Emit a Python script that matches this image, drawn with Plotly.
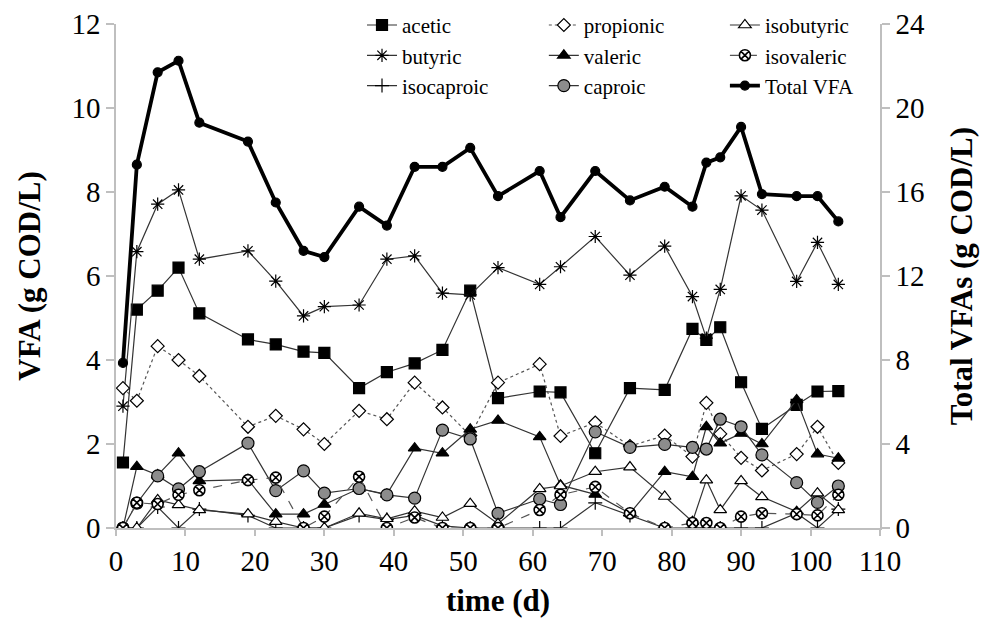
import plotly.graph_objects as go

days = [1, 3, 6, 9, 12, 19, 23, 27, 30, 35, 39, 43, 47, 51, 55, 61, 64, 69, 74, 79, 83, 85, 87, 90, 93, 98, 101, 104]

acetic = [1.56, 5.2, 5.65, 6.2, 5.11, 4.49, 4.37, 4.2, 4.17, 3.33, 3.71, 3.92, 4.24, 5.65, 3.09, 3.25, 3.23, 1.78, 3.33, 3.29, 4.74, 4.48, 4.78, 3.47, 2.36, 2.93, 3.25, 3.26]
propionic = [3.33, 3.03, 4.33, 4.0, 3.62, 2.41, 2.67, 2.35, 2.0, 2.79, 2.59, 3.46, 2.87, 2.2, 3.46, 3.9, 2.19, 2.51, 1.95, 2.2, 1.7, 2.98, 2.24, 1.67, 1.37, 1.76, 2.41, 1.55]
isobutyric = [0, 0, 0.67, 0.55, 0.43, 0.33, 0.15, 0, 0, 0.35, 0.22, 0.4, 0.25, 0.58, 0.1, 0.93, 1.0, 1.34, 1.45, 0.75, 0.15, 1.14, 0.43, 1.12, 0.74, 0.39, 0.83, 0.43]
butyric = [2.9, 6.58, 7.71, 8.05, 6.4, 6.6, 5.88, 5.05, 5.27, 5.31, 6.4, 6.48, 5.59, 5.55, 6.2, 5.8, 6.22, 6.94, 6.02, 6.71, 5.51, 4.52, 5.68, 7.91, 7.57, 5.87, 6.8, 5.8]
valeric = [0, 1.46, 1.26, 1.78, 1.12, 1.15, 0.33, 0.33, 0.56, 0.94, 0.8, 1.9, 1.78, 2.35, 2.56, 2.17, 1.02, 0.8, 0.35, 1.34, 1.22, 2.41, 2.02, 2.25, 2.0, 3.05, 1.76, 1.66]
isovaleric = [0, 0.6, 0.57, 0.79, 0.9, 1.14, 1.2, 0, 0.27, 1.22, 0, 0.25, 0, 0, 0, 0.43, 0.79, 0.98, 0.35, 0, 0.12, 0.12, 0, 0.27, 0.35, 0.33, 0.3, 0.79]
isocaproic = [0, 0, 0.5, 0, 0.45, 0.3, 0, 0, 0, 0.3, 0.2, 0.3, 0.05, 0, 0, 0, 0, 0.6, 0.3, 0, 0, 0, 0, 0, 0, 0.35, 0, 0.45]
caproic = [0, 0.59, 1.24, 0.93, 1.34, 2.02, 0.89, 1.36, 0.83, 0.94, 0.79, 0.71, 2.33, 2.12, 0.35, 0.69, 0.56, 2.29, 1.92, 1.99, 1.92, 1.88, 2.59, 2.41, 1.74, 1.08, 0.61, 1.0]
total_vfa = [7.86, 17.3, 21.7, 22.25, 19.3, 18.4, 15.5, 13.2, 12.9, 15.3, 14.4, 17.2, 17.2, 18.1, 15.8, 17.0, 14.8, 17.0, 15.6, 16.25, 15.3, 17.4, 17.65, 19.1, 15.9, 15.8, 15.8, 14.6]

FONT = "Liberation Serif"
LC = "#333333"

fig = go.Figure()

def add(name, y, symbol, fill, dash, legend, size=10, lw=1.2, lcol=LC, yaxis="y", mlw=1.2):
    fig.add_trace(go.Scatter(
        x=days, y=y, name=name, mode="lines+markers", yaxis=yaxis, legend=legend,
        line=dict(color=lcol, width=lw, dash=dash),
        marker=dict(symbol=symbol, size=size, color=fill, line=dict(color="black", width=mlw)),
    ))

# column 1
add("acetic", acetic, "square", "black", "solid", "legend", size=11)
add("butyric", butyric, "asterisk-open", "black", "solid", "legend", size=11)
add("isocaproic", isocaproic, "cross-thin-open", "black", "solid", "legend", size=10)
# column 2
add("propionic", propionic, "diamond", "white", "dot", "legend2", size=10, lcol="#555555")
add("valeric", valeric, "triangle-up", "black", "solid", "legend2", size=11)
add("caproic", caproic, "circle", "#8c8c8c", "solid", "legend2", size=12)
# column 3
add("isobutyric", isobutyric, "triangle-up", "white", "solid", "legend3", size=11)
add("isovaleric", isovaleric, "circle-x", "white", "dash", "legend3", size=11, lcol="#555555", mlw=1.6)
add("Total VFA", total_vfa, "circle", "black", "solid", "legend3", size=9, lw=3.8, lcol="black", yaxis="y2")

axis_common = dict(
    showline=True, linecolor="#bfbfbf", linewidth=1.5,
    ticks="outside", tickcolor="#bfbfbf", tickwidth=1.5,
    showgrid=False, zeroline=False,
    tickfont=dict(family=FONT, size=29, color="black"),
)

leg_common = dict(
    orientation="v", yanchor="top", xanchor="left", y=1.038,
    font=dict(family=FONT, size=21, color="black"),
    bgcolor="rgba(0,0,0,0)", tracegroupgap=0,
)

fig.update_layout(
    width=990, height=621,
    margin=dict(l=108, r=118, t=16, b=101, autoexpand=False),
    plot_bgcolor="white", paper_bgcolor="white",
    font=dict(family=FONT, color="black"),
    xaxis=dict(range=[0, 110], dtick=10, ticklen=6,
               title=dict(text="<b>time (d)</b>", font=dict(family=FONT, size=31), standoff=14),
               **axis_common),
    yaxis=dict(range=[0, 12], dtick=2, ticklen=8,
               title=dict(text="<b>VFA (g COD/L)</b>", font=dict(family=FONT, size=31), standoff=22),
               **axis_common),
    yaxis2=dict(range=[0, 24], dtick=4, ticklen=8, overlaying="y", side="right",
                title=dict(text="<b>Total VFAs (g COD/L)</b>", font=dict(family=FONT, size=31), standoff=26),
                **axis_common),
    legend=dict(x=0.322, **leg_common),
    legend2=dict(x=0.56, **leg_common),
    legend3=dict(x=0.797, **leg_common),
)

fig.write_html("out.html")
